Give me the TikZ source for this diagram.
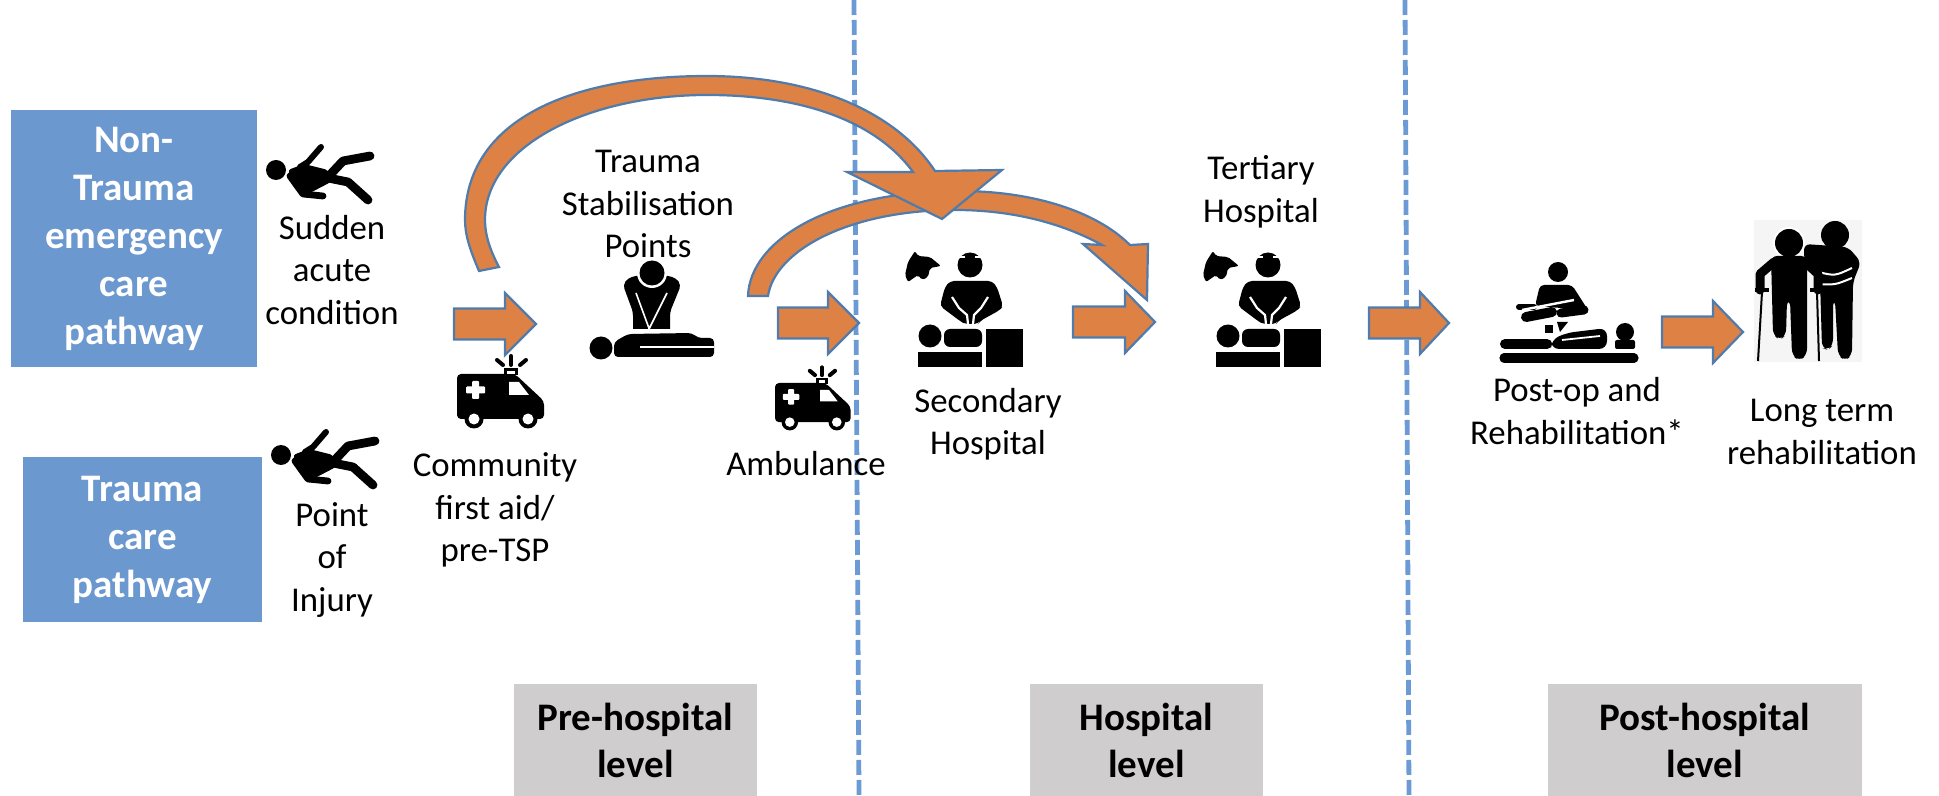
\documentclass[tikz,border=0pt]{standalone}
\usepackage{fontspec}
\usepackage{xcolor}
\usetikzlibrary{positioning, calc}
\setmainfont{Carlito}
\definecolor{pathblue}{HTML}{6B98CF}
\definecolor{arrowfill}{HTML}{DD8144}
\definecolor{arrowedge}{HTML}{4F7CAC}
\definecolor{dashblue}{HTML}{6C9AD4}
\definecolor{levelgrey}{HTML}{CFCDCE}
\tikzset{
  pathbox/.style={fill=pathblue, text=white, font=\fontsize{19.5}{24}\selectfont\bfseries, align=center, inner sep=0pt},
  levelbox/.style={fill=levelgrey, font=\fontsize{19.5}{23.5}\selectfont\bfseries, align=center, inner sep=0pt},
  placelabel/.style={font=\fontsize{17.4}{21.25}\selectfont, align=center, inner sep=0pt},
  blockarrow/.style={fill=arrowfill, draw=arrowedge, line width=1.1pt, line join=miter},
  levelline/.style={draw=dashblue, line width=2.4pt, dash pattern=on 7.5pt off 2.5pt},
  limb/.style={line width=#1, line cap=round, line join=round},
  pics/fallen/.style={code={
    \fill (0,0) circle (10);
    \fill[rounded corners=1.5pt] (12,0) -- (28,-6) -- (52,0) -- (55,12) -- (30,25) -- (18,18) -- cycle;
    \draw[limb=3pt] (24,-3) -- (32,-8) -- (45,-23);
    \draw[limb=3.4pt] (14,6) -- (27,24) -- (47,26);
    \draw[limb=4.4pt] (52,7) -- (67,-9) -- (94,-14);
    \draw[limb=4.4pt] (47,7) -- (72,12) -- (92,30);
  }},
  pics/ambulance/.style={code={
    \fill[rounded corners=2pt] (0,0) -- (58,0) -- (87,27) -- (87,45) -- (0,45) -- cycle;
    \fill (47,-6) rectangle (61,1);
    \fill[white] (50,-3) rectangle (58,0);
    \fill[white] (52,8) -- (62,8) -- (72,21) -- (52,21) -- cycle;
    \fill[white, rounded corners=.5pt] (15,7) rectangle (22,25) (9,12.5) rectangle (28,19.5);
    \draw[limb=2pt] (54,-18) -- (54,-9);
    \draw[limb=2pt] (40,-14) -- (46,-9);
    \draw[limb=2pt] (69,-14) -- (63,-9);
    \foreach \wheelx in {17,71} {
      \fill (\wheelx,45) circle (9.5);
      \fill[white] (\wheelx,45) circle (5.5);
    }
  }},
  pics/cpr/.style={code={
    % rescuer
    \fill[rounded corners=2pt] (623,285) -- (628,278) -- (640,275) -- (664,275) -- (676,278) -- (681,285) -- (670,312) -- (670,333) -- (633,333) -- (633,312) -- cycle;
    \fill[white] (652,273) circle (15);
    \fill (652,273) circle (12.5);
    \draw[white, line width=.8pt] (636,293) -- (650,331) (667,293) -- (648,331);
    % patient
    \fill (601,348) circle (11.5);
    \fill[white] (632,329) rectangle (671,333);
    \fill[rounded corners=2pt] (614,357) -- (614,342) -- (628,334) -- (692,333) -- (698,338) -- (714,338) -- (714,357) -- cycle;
    \draw[white, line width=.8pt] (640,347) -- (714,347);
  }},
  pics/surgeon/.style={code={
    \fill[rounded corners=1pt] (65,71) -- (68,76) -- (80,77) -- (91,86) -- (80,88) -- (78,97) -- (72,100) -- (68,95) -- (58,102) -- (55,95) -- (58,82) -- cycle;
    \fill (120,85) circle (12.5);
    \draw[white, line width=1pt] (106,77.5) -- (115,77.5) (125,77.5) -- (134,77.5);
    \fill[rounded corners=2pt] (100,101) -- (142,101) -- (147,107) -- (153,126) -- (150,130) -- (130,141) -- (128,144) -- (115,144) -- (110,141) -- (90,126) -- (95,107) -- cycle;
    \draw[white, line width=1.1pt, line join=round] (102,117) -- (109,128) -- (117,135) -- (118,144);
    \draw[white, line width=1.1pt, line join=round] (138,117) -- (131,128) -- (124,135) -- (123,144);
    \fill (80,156) circle (11.5);
    \fill[rounded corners=3pt] (94,149) rectangle (132,167);
    \fill (68,172) rectangle (132,187);
    \fill (136,149) rectangle (173,187);
  }},
  pics/therapist/.style={code={
    \fill (108,72) circle (10);
    \fill[rounded corners=2pt] (90,85) -- (122,85) -- (138,110) -- (85,106) -- cycle;
    \draw[limb=3pt] (69,107) -- (84,107);
    \draw[white, line width=1.2pt] (72,110) -- (124,100);
    \draw[limb=5pt] (76,117) -- (102,112);
    \draw[limb=4.5pt] (111,113) -- (134,110);
    \fill (95,125) rectangle (103,133);
    \fill (107,122) -- (118,122) -- (110,132) -- cycle;
    \draw[limb=5pt] (55,144) -- (97,144);
    \fill[rounded corners=4pt] (101,149) -- (101,140) -- (116,133) -- (157,128) -- (157,149) -- cycle;
    \draw[white, line width=.9pt] (112,140) -- (150,136);
    \fill (175,132) circle (9);
    \fill[rounded corners=1pt] (165,140) rectangle (185,149);
    \draw[limb=4.6pt] (54,158) -- (184,158);
  }},
  pics/walkers/.style={code={
    \fill[black!4] (304,20) rectangle (412,162);
    % carer behind
    \fill (385,35) circle (14);
    \fill[rounded corners=3pt] (354,44) -- (398,47) -- (411,62) -- (403,82) -- (402,155) -- (395,161) -- (388,155) -- (385,100) -- (383,100) -- (383,145) -- (378,150) -- (372,148) -- (370,80) -- (354,60) -- cycle;
    \draw[white, line width=1pt] (368,72) .. controls (385,76) .. (402,68);
    \draw[white, line width=1pt] (367,84) .. controls (385,85) .. (402,78);
    % patient on crutches
    \fill[white] (339,43) circle (16);
    \fill (339,43) circle (14);
    \draw[limb=4.5pt] (324,62) -- (310,74) -- (310,90);
    \draw[limb=4.5pt] (355,62) -- (368,74) -- (368,90);
    \fill[rounded corners=3pt] (321,56) -- (357,56) -- (357,155) -- (349,161) -- (342,155) -- (340,100) -- (337,100) -- (336,135) -- (330,140) -- (323,135) -- cycle;
    \draw[line width=1pt] (312,92) -- (308,161) (367,92) -- (369,161);
    \draw[line width=1.6pt] (305,90) -- (319,90) (360,90) -- (372,90);
  }},
}

\begin{document}
\begin{tikzpicture}[x=0.5pt, y=-0.5pt]
\useasboundingbox (0,0) rectangle (1939,796);
% Level dividers
\draw[levelline] (854,0) -- (859,796);
\draw[levelline] (1405,0) -- (1409,796);
% Pathway boxes
\node[pathbox, minimum width=123pt, minimum height=128.5pt] (nontrauma) at (134,238.5) {Non-\\Trauma\\emergency\\care\\pathway};
\node[pathbox, minimum width=119.5pt, minimum height=82.5pt] (trauma) at (142.5,539.5) {Trauma\\care\\pathway};
% Level boxes
\foreach \name/\xmid/\boxw/\txt in {prehospital/635.5/121.5/Pre-hospital, hospital/1146.5/116.5/Hospital, posthospital/1705/157/Post-hospital} {
  \node[levelbox, minimum width=\boxw pt, minimum height=56pt] (\name) at (\xmid,740) {\txt\\level};
}
% Straight block arrows
\foreach \tailx/\basex/\tipx/\midy in {454/505/536/324, 778/828/859/323, 1073/1125/1155/322, 1369/1420/1449/323, 1662/1713/1743/332} {
  \draw[blockarrow] (\tailx,\midy-15.5) -- (\basex,\midy-15.5) -- (\basex,\midy-31) -- (\tipx,\midy) -- (\basex,\midy+31) -- (\basex,\midy+15.5) -- (\tailx,\midy+15.5) -- cycle;
}
% Curved block arrows
\draw[blockarrow] (748,296) .. controls (750,240) and (830,191) .. (960,191) .. controls (1030,191) and (1095,210) .. (1130,245) -- (1148,244) -- (1147,300) -- (1083,244) -- (1102,245) .. controls (1060,222) and (1010,210) .. (955,210) .. controls (850,210) and (775,250) .. (768,296) -- cycle;
\draw[blockarrow] (479,271) .. controls (470,250) and (465,235) .. (465,220) .. controls (465,120) and (570,76) .. (707,76) .. controls (810,76) and (895,110) .. (935,171) -- (1002,170) -- (942,219) -- (847,172) -- (913,172) .. controls (875,120) and (800,95) .. (707,95) .. controls (590,95) and (485,145) .. (485,220) .. controls (485,235) and (490,250) .. (499,267) -- cycle;
% Icons
\pic at (276,170) {fallen};
\pic at (281,455) {fallen};
\pic at (457,374) {ambulance};
\pic[scale=0.87] at (775,383) {ambulance};
\pic at (0,0) {cpr};
\pic at (850,180) {surgeon};
\pic at (1148,180) {surgeon};
\pic at (1450,200) {therapist};
\pic at (1450,200) {walkers};
% Labels
\node[placelabel] (sudden) at (332,270) {Sudden\\acute\\condition};
\node[placelabel] (injury) at (332,560) {Point\\of\\Injury};
\node[placelabel] (community) at (495,510) {Community\\first aid/\\pre-TSP};
\node[placelabel] (tsp) at (648,204) {Trauma\\Stabilisation\\Points};
\node[placelabel] (ambulance) at (806,464) {Ambulance};
\node[placelabel] (secondary) at (988,424) {Secondary\\Hospital};
\node[placelabel] (tertiary) at (1261,192) {Tertiary\\Hospital};
\node[placelabel] (postop) at (1577,411) {Post-op and\\Rehabilitation*};
\node[placelabel] (longterm) at (1822,432) {Long term\\rehabilitation};
\end{tikzpicture}
\end{document}
